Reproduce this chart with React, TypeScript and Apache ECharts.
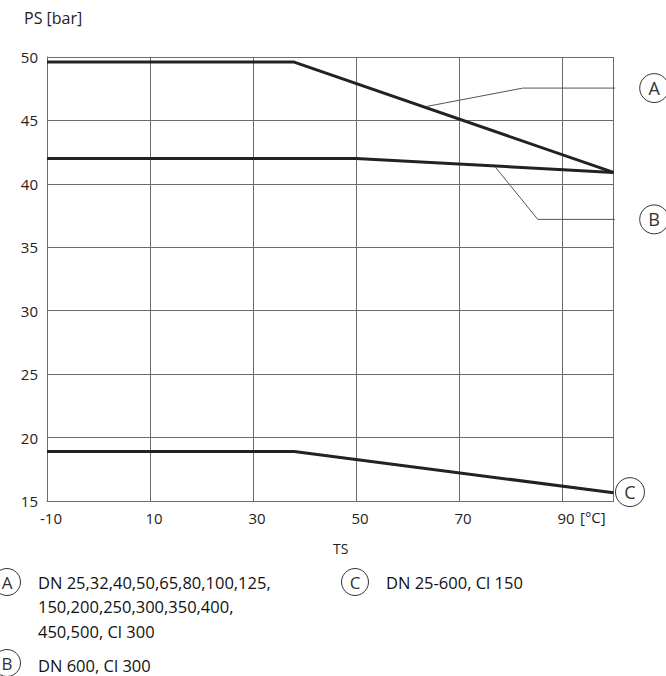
import React, { useEffect, useRef } from 'react';
import * as echarts from 'echarts';

const FONT = '"Open Sans", "Noto Sans", sans-serif';

// axis ranges and ticks
const xMin = -10;
const xMax = 100;
const xGridValues = [-10, 10, 30, 50, 70, 90, 100];
const xLabelValues = [-10, 10, 30, 50, 70, 90];
const yMin = 15;
const yMax = 50;
const yInterval = 5;

// curves: temperature TS [°C] vs pressure PS [bar]
const curveA_T = [-10, 38, 100];
const curveA_PS = [49.6, 49.6, 40.9];
const curveB_T = [-10, 50, 100];
const curveB_PS = [42, 42, 40.9];
const curveC_T = [-10, 38, 100];
const curveC_PS = [18.9, 18.9, 15.65];

// leader lines to callout circles (data coordinates)
const leaderA_T = [63.7, 82.4, 104.5];
const leaderA_PS = [46.1, 47.55, 47.55];
const leaderB_T = [77.1, 85.3, 104.5];
const leaderB_PS = [41.3, 37.2, 37.2];

// callouts
const calloutLetters = ['A', 'B', 'C'];
const calloutT = [107.9, 107.9, 103.2];
const calloutPS = [47.55, 37.2, 15.7];

// legend
const legendLetters = ['A', 'B', 'C'];
const legendTexts = [
  'DN 25,32,40,50,65,80,100,125,\n150,200,250,300,350,400,\n450,500, Cl 300',
  'DN 600, Cl 300',
  'DN 25-600, Cl 150',
];

const zip = (a: number[], b: number[]) => a.map((v, i) => [v, b[i]]);

export default function App() {
  const ref = useRef<HTMLDivElement>(null);
  useEffect(() => {
    if (!ref.current) return;
    const chart = echarts.init(ref.current, null, { renderer: 'svg' });
    const gridColor = '#6b6b6b';
    const curveStyle = { color: '#222', width: 3 };
    const leaderStyle = { color: '#555', width: 1 };
    const legendPos = [
      { cx: 7, cy: 582, tx: 38, ty: 570, va: 'top' },
      { cx: 7, cy: 663, tx: 38, ty: 665, va: 'middle' },
      { cx: 355, cy: 582, tx: 386, ty: 570, va: 'top' },
    ];
    const graphic: any[] = [
      {
        type: 'text',
        left: 24,
        top: 10,
        style: { text: 'PS [bar]', font: `16px ${FONT}`, fill: '#222' },
      },
      {
        type: 'text',
        left: 580,
        top: 509,
        style: { text: '[°C]', font: `15px ${FONT}`, fill: '#222' },
      },
      {
        type: 'text',
        left: 333,
        top: 541,
        style: { text: 'TS', font: `14px ${FONT}`, fill: '#222' },
      },
    ];
    legendLetters.forEach((l, i) => {
      const p = legendPos[i];
      graphic.push({
        type: 'circle',
        shape: { cx: p.cx, cy: p.cy, r: 13.5 },
        style: { fill: '#fff', stroke: '#333', lineWidth: 1 },
      });
      graphic.push({
        type: 'text',
        x: p.cx,
        y: p.cy,
        style: {
          text: l,
          font: `17px ${FONT}`,
          fill: '#333',
          align: 'center',
          verticalAlign: 'middle',
        },
      });
      graphic.push({
        type: 'text',
        x: p.tx,
        y: p.ty,
        style: {
          text: legendTexts[i],
          font: `500 16.5px ${FONT}`,
          fill: '#111',
          lineHeight: 24.5,
          verticalAlign: p.va,
        },
      });
    });

    chart.setOption({
      animation: false,
      grid: { left: 47, right: 52.5, top: 57, bottom: 175, containLabel: false },
      xAxis: {
        type: 'value',
        min: xMin,
        max: xMax,
        axisLine: { show: true, onZero: false, lineStyle: { color: gridColor, width: 1 } },
        axisTick: { show: false },
        splitLine: { show: false },
        axisLabel: {
          customValues: xLabelValues,
          color: '#222',
          fontSize: 15,
          fontFamily: FONT,
          margin: 9,
          padding: [0, 0, 0, 8],
        },
      },
      yAxis: {
        type: 'value',
        min: yMin,
        max: yMax,
        interval: yInterval,
        axisLine: { show: true, onZero: false, lineStyle: { color: gridColor, width: 1 } },
        axisTick: { show: false },
        splitLine: { show: true, lineStyle: { color: gridColor, width: 1 } },
        axisLabel: {
          color: '#222',
          fontSize: 15,
          fontFamily: FONT,
          margin: 9,
          padding: [0, 0, 4, 0],
        },
      },
      series: [
        {
          type: 'line',
          name: 'A',
          data: zip(curveA_T, curveA_PS),
          symbol: 'none',
          lineStyle: curveStyle,
          silent: true,
          z: 3,
          markLine: {
            silent: true,
            symbol: ['none', 'none'],
            label: { show: false },
            lineStyle: { color: gridColor, width: 1, type: 'solid' },
            z: 1,
            data: xGridValues.map((v) => ({ xAxis: v })),
          },
        },
        { type: 'line', name: 'B', data: zip(curveB_T, curveB_PS), symbol: 'none', lineStyle: curveStyle, silent: true, z: 3 },
        { type: 'line', name: 'C', data: zip(curveC_T, curveC_PS), symbol: 'none', lineStyle: curveStyle, silent: true, z: 3 },
        { type: 'line', name: 'leaderA', data: zip(leaderA_T, leaderA_PS), symbol: 'none', lineStyle: leaderStyle, clip: false, silent: true, z: 2 },
        { type: 'line', name: 'leaderB', data: zip(leaderB_T, leaderB_PS), symbol: 'none', lineStyle: leaderStyle, clip: false, silent: true, z: 2 },
        {
          type: 'scatter',
          name: 'callouts',
          data: calloutT.map((t, i) => ({ value: [t, calloutPS[i]], name: calloutLetters[i] })),
          symbol: 'circle',
          symbolSize: 29,
          clip: false,
          silent: true,
          z: 4,
          itemStyle: { color: '#fff', borderColor: '#333', borderWidth: 1, opacity: 1 },
          label: {
            show: true,
            position: 'inside',
            formatter: (p: any) => p.name,
            color: '#333',
            fontSize: 18,
            fontFamily: FONT,
          },
        },
      ],
      graphic,
    });
    return () => chart.dispose();
  }, []);
  return (
    <div
      ref={ref}
      style={{ position: 'absolute', left: 0, top: 0, width: 666, height: 676, background: '#fff' }}
    />
  );
}
